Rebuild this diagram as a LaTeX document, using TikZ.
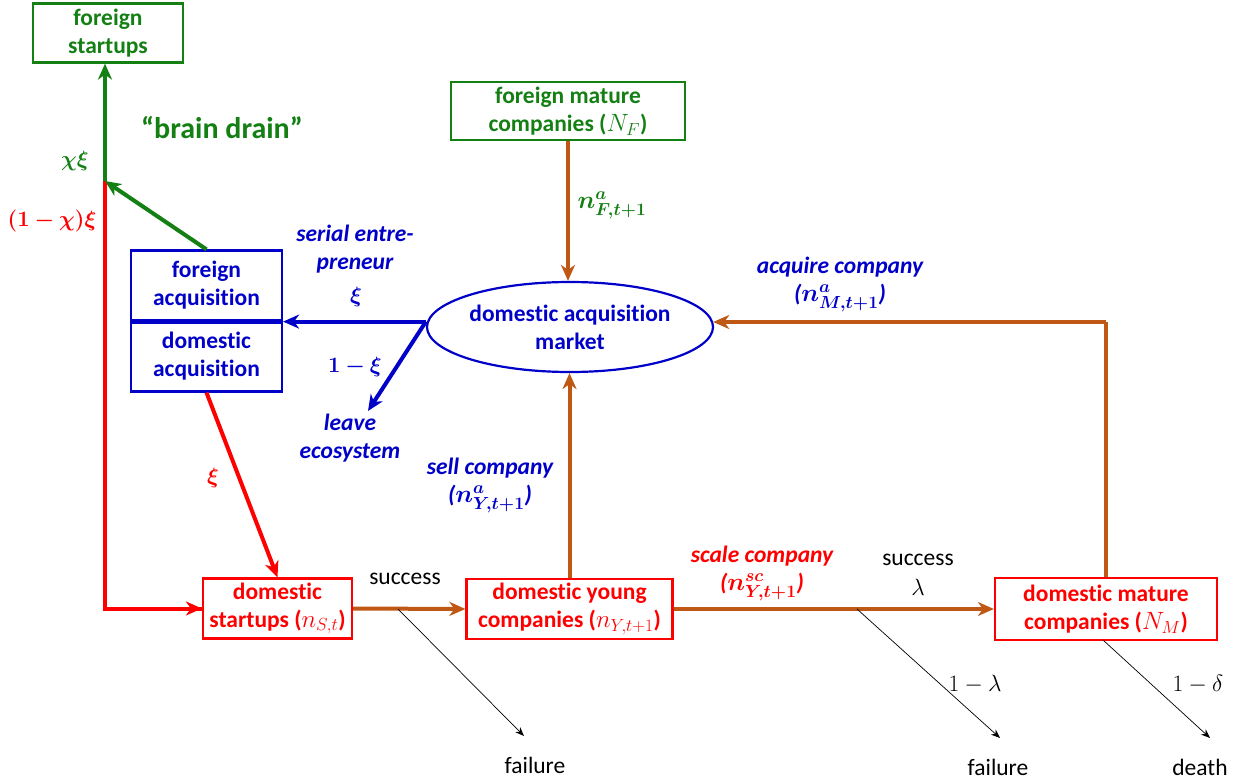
\RequirePackage{fix-cm}
\documentclass[tikz,border=0pt]{standalone}
\usepackage{amsmath,bm}
\usepackage{fontspec}
\setmainfont{Carlito}[Ligatures={NoCommon}]
\usetikzlibrary{arrows.meta,shapes.geometric}
\definecolor{cgreen}{RGB}{20,128,20}
\definecolor{cblue}{RGB}{0,0,200}
\definecolor{cred}{RGB}{255,0,0}
\definecolor{cbrown}{RGB}{190,88,20}
\newcommand{\bigmath}[1]{{\fontsize{25}{28}\selectfont$#1$}}
\tikzset{
  x=1pt,y=-1pt,
  basefont/.style={font=\fontsize{23.5}{28}\selectfont\bfseries},
  box/.style={draw, line width=2.2pt, align=center, inner sep=0pt, basefont},
  gbox/.style={box, draw=cgreen, text=cgreen},
  bbox/.style={box, draw=cblue, text=cblue},
  rbox/.style={box, draw=cred, text=cred},
  bigarrow/.style={line width=4pt, -{Stealth[length=16pt,width=14pt,inset=5pt]}},
  garrow/.style={bigarrow, draw=cgreen},
  rarrow/.style={bigarrow, draw=cred},
  barrow/.style={bigarrow, draw=cblue},
  brarrow/.style={bigarrow, draw=cbrown},
  thinarrow/.style={line width=0.7pt, draw=black, -{Stealth[length=9pt,width=7pt]}},
  lbl/.style={align=center, inner sep=0pt, font=\fontsize{23.5}{28}\selectfont\bfseries\itshape},
  plain/.style={align=center, inner sep=0pt, font=\fontsize{23.5}{30}\selectfont},
  mth/.style={inner sep=0pt, font=\fontsize{22}{28}\selectfont},
}
\begin{document}
\begin{tikzpicture}
\useasboundingbox (0,0) rectangle (1240,781);
% nodes
\node[gbox, minimum width=150, minimum height=59] (fs) at (108,33) {foreign\\startups};
\node[gbox, minimum width=234, minimum height=58] (fm) at (568,111) {foreign mature\\companies (\bigmath{N_F})};
\node[bbox, minimum width=151, minimum height=70] (facq) at (206.5,285.5) {foreign\\acquisition};
\node[bbox, minimum width=151, minimum height=71] (dacq) at (206.5,356) {domestic\\acquisition};
\node[ellipse, draw=cblue, line width=2.2pt, text=cblue, basefont, align=center, minimum width=286, minimum height=90, inner sep=0pt] (ell) at (570,327) {domestic acquisition\\market};
\node[rbox, minimum width=149, minimum height=60] (ds) at (277.5,608.5) {domestic\\startups (\bigmath{n_{S,t}})};
\node[rbox, minimum width=206, minimum height=60] (dy) at (569.5,609) {domestic young\\companies (\bigmath{n_{Y,t+1}})};
\node[rbox, minimum width=222, minimum height=62] (dm) at (1106,609) {domestic mature\\companies (\bigmath{N_M})};
\coordinate (J) at (105,181);
\coordinate (L) at (368,411);
\coordinate (f1s) at (398,609);
\coordinate (f1e) at (524,736);
\coordinate (f2s) at (857,609);
\coordinate (f2e) at (1000,738);
\coordinate (f3s) at (1103,640);
\coordinate (f3e) at (1210,738);
% connectors
\draw[line width=4pt, cred] (J) -- (J |- ds.west) -- (ds.west);
\draw[rarrow] (J |- ds.west) -- (ds.west);
\draw[garrow] (J) -- (J |- fs.south);
\draw[garrow] (facq.north) -- (J);
\draw[line width=4pt, cblue] (facq.south west) -- (facq.south east);
\draw[barrow] (ell.west |- facq.south east) -- (facq.south east);
\draw[barrow] (ell.west |- facq.south east) -- (L);
\draw[rarrow] (dacq.south) -- (ds.north);
\draw[brarrow] (ds.east) -- (dy.west);
\draw[brarrow] (dy.north) -- (dy.north |- ell.south);
\draw[brarrow] (dy.east) -- (dm.west);
\draw[brarrow] (fm.south) -- (fm.south |- ell.north);
\draw[line width=4pt, cbrown] (dm.north) -- (dm.north |- ell.2);
\draw[brarrow] (dm.north |- ell.2) -- (ell.2);
\draw[thinarrow] (f1s) -- (f1e);
\draw[thinarrow] (f2s) -- (f2e);
\draw[thinarrow] (f3s) -- (f3e);
% labels
\node[text=cgreen, inner sep=0pt, font=\fontsize{30}{34}\selectfont\bfseries] (bd) at (222,128) {“brain drain”};
\node[mth, text=cgreen] (chi) at (75,161) {$\boldsymbol{\chi\xi}$};
\node[mth, text=cred] (omc) at (52,221) {$\boldsymbol{(1-\chi)\xi}$};
\node[lbl, text=cblue] (se) at (355,249) {serial entre-\\preneur};
\node[mth, text=cblue] (xi1) at (356,297) {$\boldsymbol{\xi}$};
\node[mth, text=cblue] (omx) at (355,367) {$\boldsymbol{1-\xi}$};
\node[lbl, text=cblue] (le) at (350,438) {leave\\ecosystem};
\node[mth, text=cred] (xi2) at (213,478) {$\boldsymbol{\xi}$};
\node[lbl, text=cblue] (sc) at (490,485) {sell company\\(\bigmath{\boldsymbol{n^a_{Y,t+1}}})};
\node[lbl, text=cblue] (ac) at (840,284) {acquire company\\(\bigmath{\boldsymbol{n^a_{M,t+1}}})};
\node[mth, text=cgreen] (nf) at (612,205) {\bigmath{\boldsymbol{n^a_{F,t+1}}}};
\node[plain] (s1) at (405,579) {success};
\node[lbl, text=cred] (scl) at (762,573) {scale company\\(\bigmath{\boldsymbol{n^{sc}_{Y,t+1}}})};
\node[plain] (s2) at (918,575) {success\\$\lambda$};
\node[plain] (fa1) at (535,765) {failure};
\node[plain] (fa2) at (998,767) {failure};
\node[plain] (de) at (1200,767) {death};
\node[plain] (oml) at (975,684) {$1-\lambda$};
\node[plain] (omd) at (1198,684) {$1-\delta$};
\end{tikzpicture}
\end{document}
